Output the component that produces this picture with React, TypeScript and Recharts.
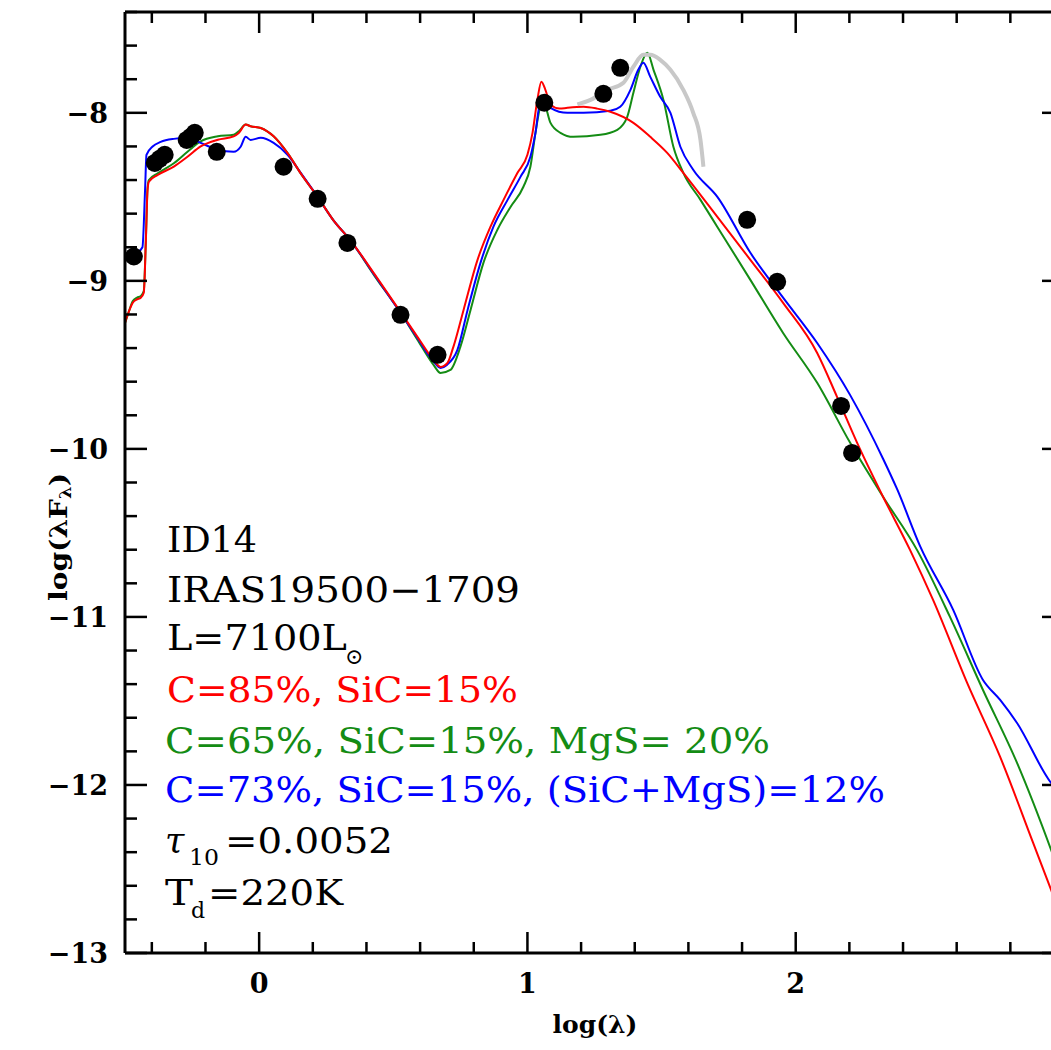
import React from 'react';
import { ComposedChart, Line, Scatter, XAxis, YAxis, Customized } from 'recharts';

// ---- data (log lambda, log lambda F_lambda) ----
const observedPoints: [number, number][] = [
  [-0.467, -8.855], [-0.389, -8.298], [-0.371, -8.274], [-0.352, -8.25],
  [-0.27, -8.161], [-0.255, -8.143], [-0.24, -8.119], [-0.158, -8.232],
  [0.091, -8.321], [0.218, -8.512], [0.329, -8.774], [0.527, -9.202],
  [0.665, -9.44], [1.063, -7.94], [1.283, -7.887], [1.346, -7.732],
  [1.819, -8.637], [1.931, -9.006], [2.169, -9.744], [2.21, -10.024],
];

const spectrumGrey: [number, number][] = [
  [1.186, -7.95], [1.235, -7.923], [1.298, -7.863], [1.358, -7.821], [1.395, -7.726],
  [1.432, -7.655], [1.458, -7.655], [1.495, -7.685], [1.533, -7.744], [1.581, -7.863],
  [1.618, -8.0], [1.645, -8.161], [1.656, -8.321],
];

const modelRed: [number, number][] = [
  [-0.5, -9.25], [-0.485, -9.18], [-0.471, -9.13], [-0.455, -9.11], [-0.441, -9.1], [-0.43, -9.07],
  [-0.422, -8.75], [-0.416, -8.46], [-0.411, -8.41], [-0.378, -8.37], [-0.318, -8.32], [-0.266, -8.26],
  [-0.218, -8.2], [-0.154, -8.16], [-0.095, -8.14], [-0.076, -8.12], [-0.05, -8.07], [-0.032, -8.08],
  [0.006, -8.09], [0.054, -8.14], [0.106, -8.24], [0.155, -8.36], [0.218, -8.5], [0.277, -8.64],
  [0.341, -8.76], [0.43, -8.96], [0.527, -9.185], [0.59, -9.333], [0.65, -9.47], [0.676, -9.512],
  [0.702, -9.488], [0.724, -9.393], [0.762, -9.173], [0.814, -8.875], [0.862, -8.679], [0.911, -8.518],
  [0.963, -8.357], [1.0, -8.25], [1.019, -8.119], [1.037, -7.923], [1.052, -7.815], [1.067, -7.863],
  [1.086, -7.952], [1.12, -7.975], [1.149, -7.97], [1.209, -7.964], [1.26, -7.975], [1.309, -7.994],
  [1.395, -8.06], [1.458, -8.143], [1.521, -8.238], [1.581, -8.357], [1.708, -8.619], [1.831, -8.875],
  [1.953, -9.131], [2.08, -9.429], [2.154, -9.69], [2.229, -9.964], [2.326, -10.286], [2.426, -10.601],
  [2.512, -10.899], [2.639, -11.393], [2.762, -11.833], [2.885, -12.345], [2.952, -12.625], [3.0, -12.83],
];

const modelGreen: [number, number][] = [
  [-0.5, -9.25], [-0.485, -9.18], [-0.471, -9.12], [-0.455, -9.1], [-0.441, -9.09], [-0.43, -9.06],
  [-0.422, -8.74], [-0.416, -8.45], [-0.411, -8.4], [-0.378, -8.36], [-0.318, -8.3], [-0.266, -8.23],
  [-0.218, -8.17], [-0.154, -8.14], [-0.095, -8.13], [-0.076, -8.11], [-0.05, -8.07], [-0.032, -8.08],
  [0.006, -8.09], [0.054, -8.14], [0.106, -8.24], [0.155, -8.36], [0.218, -8.5], [0.277, -8.64],
  [0.341, -8.76], [0.43, -8.97], [0.527, -9.19], [0.59, -9.35], [0.65, -9.5], [0.676, -9.548],
  [0.713, -9.53], [0.75, -9.393], [0.788, -9.173], [0.836, -8.893], [0.888, -8.696], [0.937, -8.56],
  [0.985, -8.44], [1.011, -8.321], [1.03, -8.119], [1.048, -7.964], [1.06, -7.94], [1.086, -8.06],
  [1.123, -8.119], [1.171, -8.143], [1.272, -8.131], [1.335, -8.101], [1.372, -8.024], [1.395, -7.881],
  [1.421, -7.726], [1.447, -7.643], [1.47, -7.744], [1.507, -7.923], [1.544, -8.202], [1.581, -8.357],
  [1.645, -8.518], [1.708, -8.679], [1.831, -8.994], [1.953, -9.31], [2.08, -9.607], [2.203, -9.964],
  [2.326, -10.286], [2.452, -10.601], [2.575, -11.0], [2.698, -11.435], [2.825, -11.869], [2.952, -12.387],
  [3.0, -12.6],
];

const modelBlue: [number, number][] = [
  [-0.5, -8.88], [-0.46, -8.84], [-0.435, -8.8], [-0.425, -8.45], [-0.42, -8.25], [-0.397, -8.2],
  [-0.367, -8.173], [-0.318, -8.155], [-0.266, -8.149], [-0.218, -8.179], [-0.154, -8.22], [-0.095, -8.232],
  [-0.069, -8.202], [-0.05, -8.143], [-0.032, -8.161], [0.006, -8.149], [0.054, -8.179], [0.106, -8.25],
  [0.155, -8.357], [0.218, -8.5], [0.277, -8.64], [0.341, -8.76], [0.43, -8.965], [0.527, -9.19],
  [0.59, -9.34], [0.65, -9.48], [0.676, -9.518], [0.7, -9.5], [0.739, -9.411], [0.777, -9.173],
  [0.825, -8.893], [0.873, -8.679], [0.926, -8.518], [0.974, -8.381], [1.011, -8.262], [1.03, -8.119],
  [1.048, -7.94], [1.06, -7.94], [1.086, -7.97], [1.149, -8.0], [1.209, -8.0], [1.309, -7.988],
  [1.346, -7.964], [1.384, -7.863], [1.413, -7.744], [1.432, -7.702], [1.458, -7.786], [1.495, -7.905],
  [1.533, -8.0], [1.57, -8.202], [1.618, -8.339], [1.708, -8.5], [1.831, -8.833], [1.953, -9.1],
  [2.08, -9.37], [2.203, -9.68], [2.326, -10.06], [2.378, -10.24], [2.464, -10.58], [2.587, -10.958],
  [2.698, -11.375], [2.762, -11.494], [2.825, -11.631], [2.952, -11.988], [3.0, -12.07],
];

const X_DOMAIN: [number, number] = [-0.5, 3.0];
const Y_DOMAIN: [number, number] = [-13, -7.4];
const X_LABELS = [0, 1, 2, 3];
const Y_LABELS = [-13, -12, -11, -10, -9, -8];
const X_TICKS = Array.from({ length: 17 }, (_, i) => Math.round((-0.4 + 0.2 * i) * 10) / 10);
const Y_TICKS = Array.from({ length: 29 }, (_, i) => Math.round((-13 + 0.2 * i) * 10) / 10);

const toRows = (arr: [number, number][]) => arr.map(([x, y]) => ({ x, y }));

const FONT = '"DejaVu Serif", "Liberation Serif", serif';
const isMajor = (v: number) => Math.abs(v - Math.round(v)) < 1e-6;
const fmt = (v: number) => (v < 0 ? '\u2212' + Math.abs(v) : String(v));

const BottomTick = (p: any) => {
  const v = p.payload.value;
  const major = isMajor(v);
  return (
    <g>
      <line x1={p.x} x2={p.x} y1={p.y} y2={p.y - (major ? 21 : 11)} stroke="#000" strokeWidth={2.5} />
      {major && X_LABELS.includes(Math.round(v)) && (
        <text x={p.x} y={p.y + 40} textAnchor="middle" fontFamily={FONT} fontWeight="bold" fontSize={27} fill="#000">
          {fmt(v)}
        </text>
      )}
    </g>
  );
};
const TopTick = (p: any) => {
  const major = isMajor(p.payload.value);
  return <line x1={p.x} x2={p.x} y1={p.y} y2={p.y + (major ? 21 : 11)} stroke="#000" strokeWidth={2.5} />;
};
const LeftTick = (p: any) => {
  const v = p.payload.value;
  const major = isMajor(v);
  return (
    <g>
      <line x1={p.x} x2={p.x + (major ? 22 : 12)} y1={p.y} y2={p.y} stroke="#000" strokeWidth={2.5} />
      {major && Y_LABELS.includes(Math.round(v)) && (
        <text x={p.x - 17} y={p.y + 10} textAnchor="end" fontFamily={FONT} fontWeight="bold" fontSize={27} fill="#000">
          {fmt(v)}
        </text>
      )}
    </g>
  );
};
const RightTick = (p: any) => {
  const major = isMajor(p.payload.value);
  return <line x1={p.x} x2={p.x - (major ? 22 : 12)} y1={p.y} y2={p.y} stroke="#000" strokeWidth={2.5} />;
};

const Dot = (p: any) => <circle cx={p.cx} cy={p.cy} r={9} fill="#000" />;

const Annotations = () => (
  <g fontFamily={FONT} fontSize={35}>
    <text x={60} y={537} transform="rotate(-90 60 537)" textAnchor="middle" dominantBaseline="middle" fontSize={25} fontWeight="bold" fill="#000" textLength={128} lengthAdjust="spacingAndGlyphs">
      log(λF<tspan fontSize={16} dy={6}>λ</tspan><tspan dy={-6}>)</tspan>
    </text>
    <text x={595} y={1033} textAnchor="middle" fontSize={25} fontWeight="bold" fill="#000">log(λ)</text>
    <text x={167} y={552} fill="#000" textLength={90} lengthAdjust="spacingAndGlyphs">ID14</text>
    <text x={167} y={602} fill="#000" textLength={353} lengthAdjust="spacingAndGlyphs">IRAS19500−1709</text>
    <text x={167} y={650} fill="#000" textLength={180} lengthAdjust="spacingAndGlyphs">L=7100L</text>
    <text x={345} y={664} fill="#000" fontSize={22}>⊙</text>
    <text x={167} y={702} fill="#ff0000" textLength={351} lengthAdjust="spacingAndGlyphs">C=85%, SiC=15%</text>
    <text x={165} y={753} fill="#148c14" textLength={605} lengthAdjust="spacingAndGlyphs">C=65%, SiC=15%, MgS= 20%</text>
    <text x={165} y={802} fill="#0000ff" textLength={720} lengthAdjust="spacingAndGlyphs">C=73%, SiC=15%, (SiC+MgS)=12%</text>
    <text x={165} y={853} fill="#000" fontStyle="italic">τ</text>
    <text x={189} y={865} fill="#000" fontSize={22} textLength={30} lengthAdjust="spacingAndGlyphs">10</text>
    <text x={225} y={853} fill="#000" textLength={168} lengthAdjust="spacingAndGlyphs">=0.0052</text>
    <text x={165} y={905} fill="#000" textLength={28} lengthAdjust="spacingAndGlyphs">T</text>
    <text x={191} y={918} fill="#000" fontSize={22}>d</text>
    <text x={208} y={905} fill="#000" textLength={135} lengthAdjust="spacingAndGlyphs">=220K</text>
  </g>
);

export default function App() {
  return (
    <div style={{ position: 'absolute', left: 0, top: 0, width: 1051, height: 1050, overflow: 'hidden', background: '#fff' }}>
      <ComposedChart width={1080} height={1050} margin={{ top: 11, right: 15, bottom: 0, left: 0 }}>
        <XAxis
          xAxisId="b" dataKey="x" type="number" domain={X_DOMAIN} allowDataOverflow ticks={X_TICKS} interval={0}
          height={97} tickSize={0} tickMargin={0} tick={BottomTick} tickLine={false}
          axisLine={{ stroke: '#000', strokeWidth: 3 }}
        />
        <XAxis
          xAxisId="t" orientation="top" dataKey="x" type="number" domain={X_DOMAIN} allowDataOverflow ticks={X_TICKS} interval={0}
          height={1} tickSize={0} tickMargin={0} tick={TopTick} tickLine={false}
          axisLine={{ stroke: '#000', strokeWidth: 3 }}
        />
        <YAxis
          yAxisId="l" type="number" domain={Y_DOMAIN} allowDataOverflow ticks={Y_TICKS} interval={0}
          width={125} tickSize={0} tickMargin={0} tick={LeftTick} tickLine={false}
          axisLine={{ stroke: '#000', strokeWidth: 3 }}
        />
        <YAxis
          yAxisId="r" orientation="right" type="number" domain={Y_DOMAIN} allowDataOverflow ticks={Y_TICKS} interval={0}
          width={1} tickSize={0} tickMargin={0} tick={RightTick} tickLine={false}
          axisLine={{ stroke: '#000', strokeWidth: 3 }}
        />
        <Line xAxisId="b" yAxisId="l" data={toRows(modelGreen)} dataKey="y" type="monotone" stroke="#148c14" strokeWidth={2} dot={false} isAnimationActive={false} />
        <Line xAxisId="b" yAxisId="l" data={toRows(modelBlue)} dataKey="y" type="monotone" stroke="#0000ff" strokeWidth={2} dot={false} isAnimationActive={false} />
        <Line xAxisId="b" yAxisId="l" data={toRows(modelRed)} dataKey="y" type="monotone" stroke="#ff0000" strokeWidth={2} dot={false} isAnimationActive={false} />
        <Scatter xAxisId="b" yAxisId="l" data={toRows(observedPoints)} dataKey="y" shape={Dot} isAnimationActive={false} />
        {/* grey spectrum drawn on the (identical) top/right axes so the frame axes render */}
        <Line xAxisId="t" yAxisId="r" data={toRows(spectrumGrey)} dataKey="y" type="monotone" stroke="#c8c8c8" strokeWidth={4} dot={false} isAnimationActive={false} />
        <Customized component={Annotations} />
      </ComposedChart>
    </div>
  );
}
